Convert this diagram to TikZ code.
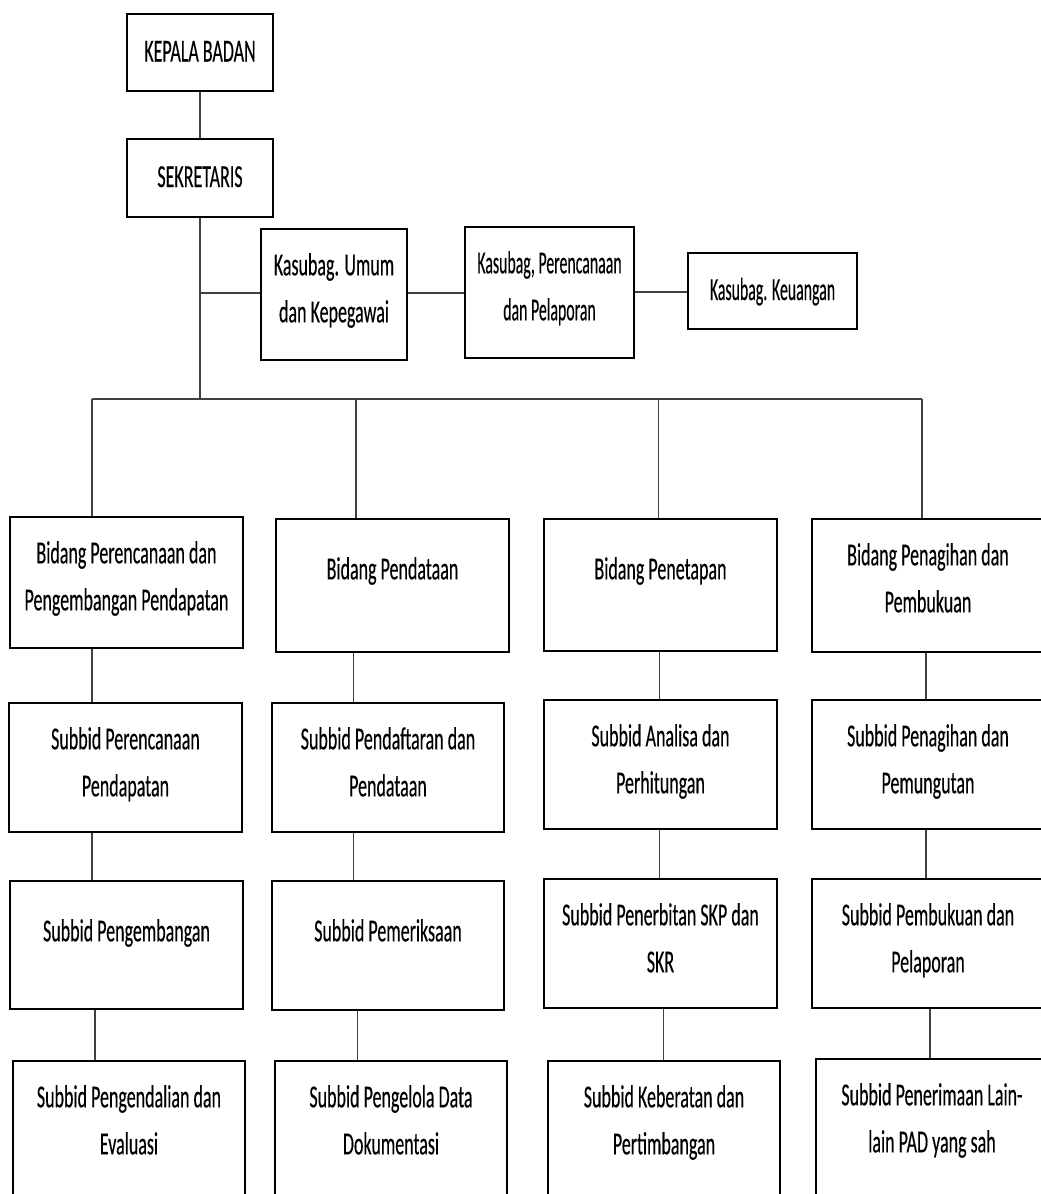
\documentclass[tikz,border=0pt]{standalone}
\usepackage{fontspec}
\usepackage{graphicx}
\setmainfont{Carlito}[FakeStretch=0.562,FakeBold=0.3]
\usetikzlibrary{calc}
\tikzset{
  orgbox/.style={draw=black, line width=2.4pt, fill=white, inner sep=0pt, rectangle},
  txt/.style={inner sep=0pt, font=\fontsize{32}{40}\selectfont, anchor=base},
  conn/.style={draw=black!75, line width=1.2pt}
}
% #1 name, #2 x1, #3 y1, #4 x2, #5 y2
\newcommand\obox[5]{\node[orgbox, minimum width={(#4-#2)*1pt}, minimum height={(#5-#3)*1pt}] (#1) at ({(#2+#4)/2},{(#3+#5)/2}) {};}
% two lines measured from the top
\newcommand\twolines[3]{%
  \node[txt] (#1-a) at ($(#1.north)+(0,47.5)$) {#2};
  \node[txt] (#1-b) at ($(#1.north)+(0,94.5)$) {#3};}
% one line, upper position
\newcommand\oneline[2]{\node[txt] (#1-a) at ($(#1.north)+(0,61.5)$) {#2};}
% one line, centred
\newcommand\midline[2]{\node[txt] (#1-a) at ($(#1.center)+(0,9)$) {#2};}
\newcommand\narrow[1]{\scalebox{0.88}[1]{#1}}
\begin{document}
\begin{tikzpicture}[x=1pt, y=-1pt]
\useasboundingbox (0,0) rectangle (1041,1194);
\clip (0,0) rectangle (1041,1194);
\fill[white] (0,0) rectangle (1041,1194);

% coordinates for connectors
\coordinate (busL) at (92,399);
\coordinate (busR) at (922,399);
\coordinate (d1) at (92,0);
\coordinate (d2) at (356,0);
\coordinate (d3) at (658.5,0);
\coordinate (d4) at (922,0);
\coordinate (k1) at (92,0);
\coordinate (k1b) at (95,0);
\coordinate (k2) at (353.5,0);
\coordinate (k2b) at (357.5,0);
\coordinate (k3) at (659.5,0);
\coordinate (k3b) at (663.5,0);
\coordinate (k4) at (926,0);
\coordinate (k4b) at (930,0);

\obox{kb}{127}{14}{273}{91}
\obox{sek}{127}{139}{273}{217}
\obox{kum}{261}{229}{407}{360}
\obox{kper}{465}{227}{634}{358}
\obox{kkeu}{688}{253}{857}{329}
\obox{b1}{10}{517}{243}{648}
\obox{b2}{276}{519}{509}{652}
\obox{b3}{544}{519}{777}{651}
\obox{b4}{812}{519}{1044}{652}
\obox{s11}{9}{703}{242}{832}
\obox{s21}{272}{703}{504}{832}
\obox{s31}{544}{700}{777}{829}
\obox{s41}{812}{700}{1044}{829}
\obox{s12}{10}{881}{243}{1009}
\obox{s22}{272}{881}{504}{1010}
\obox{s32}{544}{879}{777}{1008}
\obox{s42}{812}{879}{1044}{1008}
\obox{s13}{13}{1061}{245}{1215}
\obox{s23}{275}{1061}{507}{1215}
\obox{s33}{548}{1061}{780}{1215}
\obox{s43}{816}{1059}{1048}{1215}

\path[conn] (kb.south) -- (sek.north);
\path[conn] (sek.south) -- (sek.south |- busL);
\path[conn] (sek.south |- 0,293) -- (kum.west |- 0,293);
\path[conn] (kum.east |- 0,293) -- (kper.west |- 0,293);
\path[conn] (kper.east |- 0,292) -- (kkeu.west |- 0,292);
\path[conn] (busL) -- (busR);
\path[conn] (d1 |- busL) -- (d1 |- b1.north);
\path[conn] (d2 |- busL) -- (d2 |- b2.north);
\path[conn] (d3 |- busL) -- (d3 |- b3.north);
\path[conn] (d4 |- busL) -- (d4 |- b4.north);
\path[conn] (k1 |- b1.south) -- (k1 |- s11.north);
\path[conn] (k1 |- s11.south) -- (k1 |- s12.north);
\path[conn] (k1b |- s12.south) -- (k1b |- s13.north);
\path[conn] (k2 |- b2.south) -- (k2 |- s21.north);
\path[conn] (k2 |- s21.south) -- (k2 |- s22.north);
\path[conn] (k2b |- s22.south) -- (k2b |- s23.north);
\path[conn] (k3 |- b3.south) -- (k3 |- s31.north);
\path[conn] (k3 |- s31.south) -- (k3 |- s32.north);
\path[conn] (k3b |- s32.south) -- (k3b |- s33.north);
\path[conn] (k4 |- b4.south) -- (k4 |- s41.north);
\path[conn] (k4 |- s41.south) -- (k4 |- s42.north);
\path[conn] (k4b |- s42.south) -- (k4b |- s43.north);

% texts
\midline{kb}{KEPALA BADAN}
\midline{sek}{SEKRETARIS}
\twolines{kum}{Kasubag. Umum}{dan Kepegawai}
\twolines{kper}{\narrow{Kasubag, Perencanaan}}{\narrow{dan Pelaporan}}
\midline{kkeu}{\narrow{Kasubag. Keuangan}}
\twolines{b1}{Bidang Perencanaan dan}{Pengembangan Pendapatan}
\oneline{b2}{Bidang Pendataan}
\oneline{b3}{Bidang Penetapan}
\twolines{b4}{Bidang Penagihan dan}{Pembukuan}
\twolines{s11}{Subbid Perencanaan}{Pendapatan}
\twolines{s21}{Subbid Pendaftaran dan}{Pendataan}
\twolines{s31}{Subbid Analisa dan}{Perhitungan}
\twolines{s41}{Subbid Penagihan dan}{Pemungutan}
\oneline{s12}{Subbid Pengembangan}
\oneline{s22}{Subbid Pemeriksaan}
\twolines{s32}{Subbid Penerbitan SKP dan}{SKR}
\twolines{s42}{Subbid Pembukuan dan}{Pelaporan}
\twolines{s13}{Subbid Pengendalian dan}{Evaluasi}
\twolines{s23}{Subbid Pengelola Data}{Dokumentasi}
\twolines{s33}{Subbid Keberatan dan}{Pertimbangan}
\twolines{s43}{Subbid Penerimaan Lain-}{lain PAD yang sah}
\end{tikzpicture}
\end{document}
